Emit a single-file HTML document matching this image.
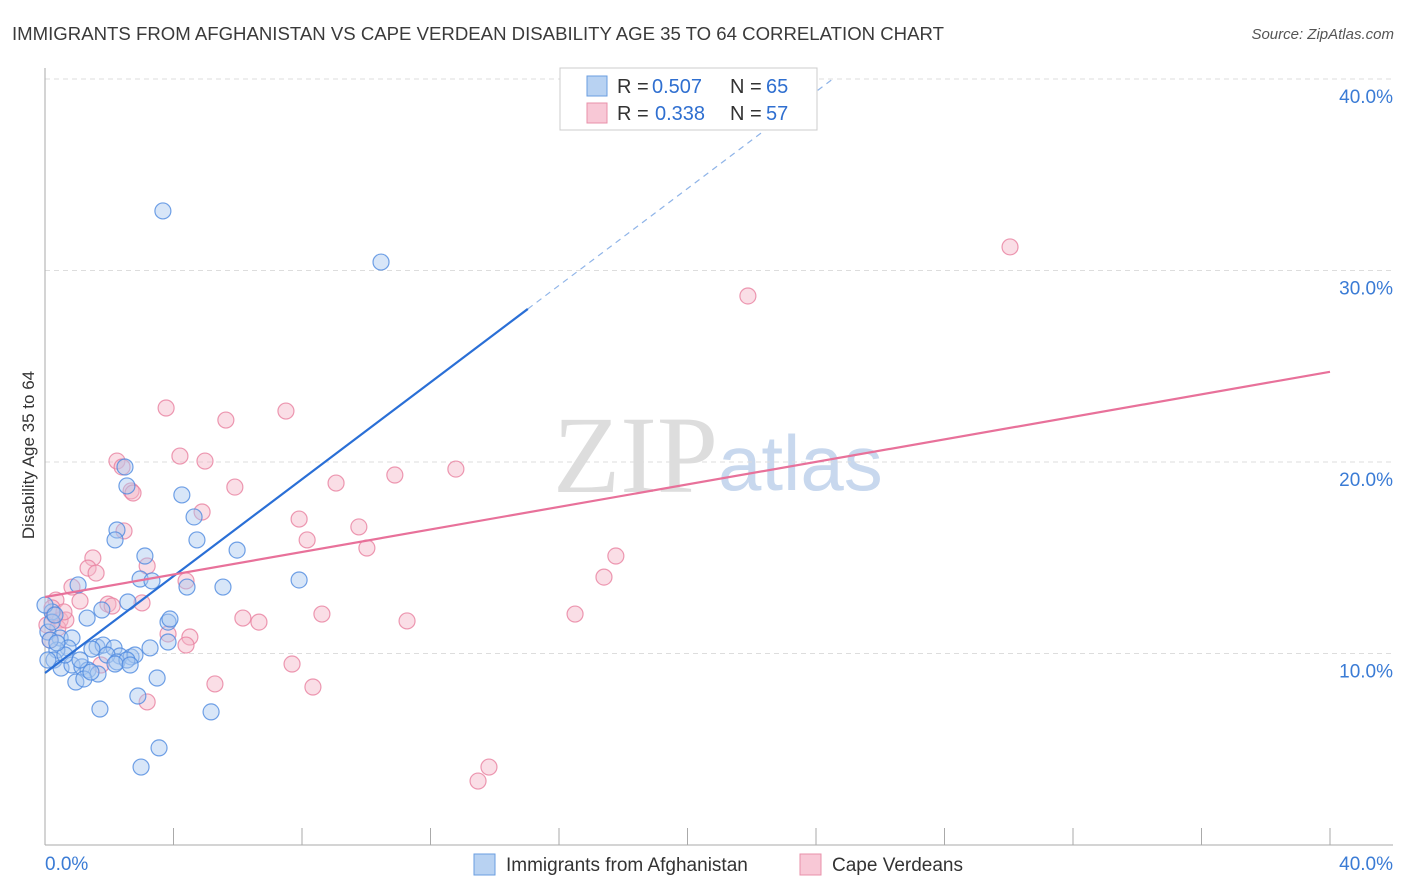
<!DOCTYPE html>
<html><head><meta charset="utf-8"><style>
body{margin:0;background:#fff;font-family:"Liberation Sans",sans-serif;}
svg{display:block}
</style></head><body>
<svg id="chart" width="1406" height="892">
<text x="12" y="40" font-size="18.6" fill="#3a3a3a">IMMIGRANTS FROM AFGHANISTAN VS CAPE VERDEAN DISABILITY AGE 35 TO 64 CORRELATION CHART</text>
<text x="1394" y="39" font-size="15" fill="#555" font-style="italic" text-anchor="end">Source: ZipAtlas.com</text>
<g>
<text x="553" y="492" font-size="110" font-family="Liberation Serif,serif" fill="#ddd">ZIP</text>
<text x="718" y="490" font-size="78" fill="#c8d8ee">atlas</text>
</g>
<g id="grid"></g>
<g id="axes"></g>
<g id="marks"></g>
<text x="34" y="455" font-size="17" fill="#333" text-anchor="middle" transform="rotate(-90 34 455)">Disability Age 35 to 64</text>
<g>
<rect x="560" y="68" width="257" height="62" fill="#fff" stroke="#ccc"/>
<rect x="587" y="76" width="20" height="20" fill="#b8d2f2" stroke="#6a9ee0"/>
<rect x="587" y="103" width="20" height="20" fill="#f8c8d6" stroke="#e890aa"/>
<text x="617" y="93" font-size="20" fill="#333">R =</text>
<text x="652" y="93" font-size="20" fill="#2f6fd0">0.507</text>
<text x="730" y="93" font-size="20" fill="#333">N =</text>
<text x="766" y="93" font-size="20" fill="#2f6fd0">65</text>
<text x="617" y="120" font-size="20" fill="#333">R =</text>
<text x="655" y="120" font-size="20" fill="#2f6fd0">0.338</text>
<text x="730" y="120" font-size="20" fill="#333">N =</text>
<text x="766" y="120" font-size="20" fill="#2f6fd0">57</text>
</g>
<g>
<rect x="474" y="854" width="21" height="21" fill="#b8d2f2" stroke="#6a9ee0"/>
<text x="506" y="871" font-size="19" fill="#333">Immigrants from Afghanistan</text>
<rect x="800" y="854" width="21" height="21" fill="#f8c8d6" stroke="#e890aa"/>
<text x="832" y="871" font-size="19" fill="#333">Cape Verdeans</text>
</g>
</svg>
<script>
const yTicks=[10,20,30,40];
const yTickLabels=["10.0%","20.0%","30.0%","40.0%"];
const xTickCount=10;
const xLabels=["0.0%","40.0%"];
const bluePx=[[163,211],[381,262],[125,467],[127,486],[182,495],[194,517],[117,530],[115,540],[197,540],[237,550],[145,556],[140,579],[152,581],[187,587],[299,580],[223,587],[78,585],[102,610],[128,602],[87,618],[168,622],[170,619],[52,612],[48,632],[60,638],[72,638],[68,648],[97,647],[103,645],[114,648],[92,649],[120,656],[131,657],[107,655],[135,655],[150,648],[168,642],[57,650],[54,660],[61,668],[72,665],[82,667],[88,670],[98,674],[76,682],[84,679],[117,662],[127,660],[157,678],[100,709],[138,696],[211,712],[159,748],[141,767],[52,622],[50,640],[65,655],[48,660],[57,643],[45,605],[55,615],[115,664],[130,665],[80,660],[91,672]];
const pinkPx=[[1010,247],[748,296],[166,408],[286,411],[226,420],[180,456],[117,461],[205,461],[122,467],[456,469],[395,475],[235,487],[336,483],[131,491],[133,493],[202,512],[299,519],[124,531],[359,527],[307,540],[367,548],[93,558],[616,556],[88,568],[96,573],[604,577],[147,566],[186,581],[72,587],[80,601],[108,604],[112,606],[142,603],[56,600],[52,608],[54,615],[60,620],[47,625],[575,614],[322,614],[243,618],[259,622],[407,621],[168,634],[190,637],[186,645],[58,628],[50,640],[66,620],[101,665],[292,664],[215,684],[313,687],[147,702],[489,767],[478,781],[64,612]];
const blueX=bluePx.map(p=>+((p[0]-45)/1285*40).toFixed(2));
const blueY=bluePx.map(p=>+((845-p[1])/19.15).toFixed(2));
const pinkX=pinkPx.map(p=>+((p[0]-45)/1285*40).toFixed(2));
const pinkY=pinkPx.map(p=>+((845-p[1])/19.15).toFixed(2));
const blueTrend=[8.98,1.265];
const pinkTrend=[12.95,0.294];
const X0=45,X1=1330,YB=845,PPY=19.15;
const sx=v=>X0+(v/40)*(X1-X0);
const sy=v=>YB-v*PPY;
const NS="http://www.w3.org/2000/svg";
function mk(tag,attrs,parent){const e=document.createElementNS(NS,tag);for(const k in attrs)e.setAttribute(k,attrs[k]);parent.appendChild(e);return e;}
const grid=document.getElementById('grid'),axes=document.getElementById('axes'),marks=document.getElementById('marks');
yTicks.forEach((t,i)=>{
 const l=mk('line',{x1:X0,x2:1393,y1:sy(t),y2:sy(t),stroke:'#ddd','stroke-dasharray':'5,4'},grid);
 
 
 const tx=mk('text',{x:1393,y:sy(t)+24,'font-size':19,fill:'#3a7bd5','text-anchor':'end'},axes);
 tx.textContent=yTickLabels[i];
 
 
});
const ya=mk('line',{x1:X0,x2:X0,y1:68,y2:YB,stroke:'#aaa'},axes);


const xa=mk('line',{x1:X0,x2:1393,y1:YB,y2:YB,stroke:'#aaa'},axes);


for(let i=1;i<=xTickCount;i++){
 const x=sx(i*4);
 const t=mk('line',{x1:x,x2:x,y1:828,y2:YB,stroke:'#aaa'},axes);
 
 
}
[[X0,'start',xLabels[0]],[1393,'end',xLabels[1]]].forEach(a=>{
 const t=mk('text',{x:a[0],y:870,'font-size':19,fill:'#3a7bd5','text-anchor':a[1]},axes);
 t.textContent=a[2];
 
 
});
function dots(xs,ys,fill,stroke,name){
 xs.forEach((x,i)=>{
  const c=mk('circle',{cx:sx(x),cy:sy(ys[i]),r:8,fill:fill,'fill-opacity':0.45,stroke:stroke,'stroke-width':1.2,'stroke-opacity':0.8},marks);
  
  
 });
}
dots(pinkX,pinkY,'#f4b6c8','#e8809f','cape-verdean-point');
dots(blueX,blueY,'#a8c8f0','#4d8ae0','afghanistan-point');
const bl=mk('line',{x1:sx(0),y1:sy(blueTrend[0]),x2:sx(15.03),y2:sy(blueTrend[0]+blueTrend[1]*15.03),stroke:'#2a6fd6','stroke-width':2.2},marks);


const xe=(40.1-blueTrend[0])/blueTrend[1];
const bd=mk('line',{x1:sx(15.03),y1:sy(blueTrend[0]+blueTrend[1]*15.03),x2:sx(xe),y2:sy(blueTrend[0]+blueTrend[1]*xe),stroke:'#8fb4e8','stroke-width':1.2,'stroke-dasharray':'6,5'},marks);


const pl=mk('line',{x1:sx(0),y1:sy(pinkTrend[0]),x2:sx(40),y2:sy(pinkTrend[0]+pinkTrend[1]*40),stroke:'#e8719a','stroke-width':2.2},marks);


</script>
</body></html>
